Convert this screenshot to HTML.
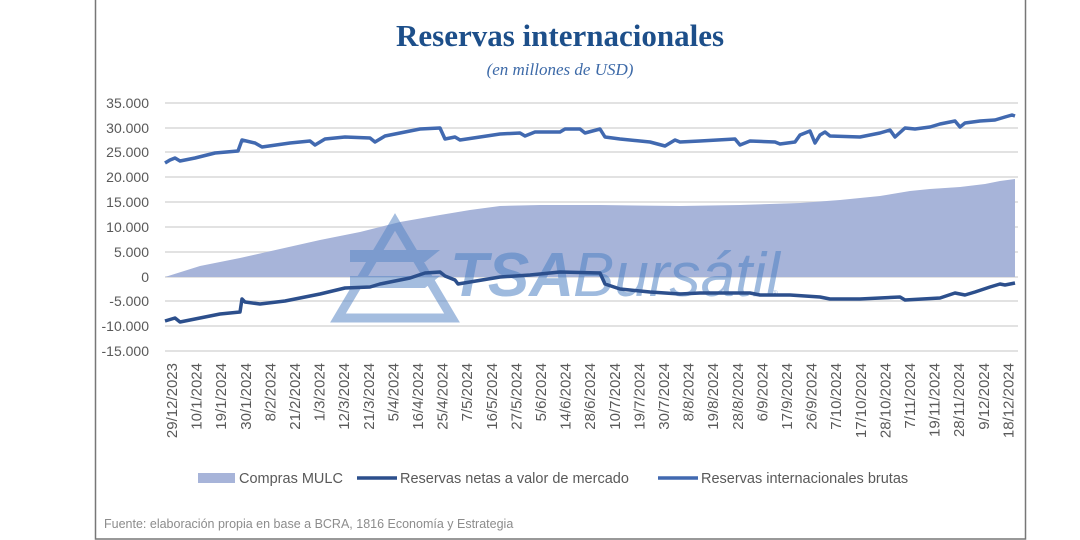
<!DOCTYPE html>
<html><head><meta charset="utf-8"><style>
body{margin:0;background:#fff;width:1080px;height:540px;overflow:hidden}
svg{display:block}
</style></head><body>
<svg width="1080" height="540" viewBox="0 0 1080 540" xmlns="http://www.w3.org/2000/svg" font-family="Liberation Sans, sans-serif">
<rect x="95.5" y="-1" width="930" height="540" fill="#fff" stroke="#777" stroke-width="1.5"/>
<text x="560" y="46" text-anchor="middle" font-family="Liberation Serif, serif" font-weight="bold" font-size="31" fill="#1d4f8a">Reservas internacionales</text>
<text x="560" y="75" text-anchor="middle" font-family="Liberation Serif, serif" font-style="italic" font-size="17" fill="#3d6aa8">(en millones de USD)</text>
<g stroke="#d9d9d9" stroke-width="1.5">
<line x1="165" x2="1018" y1="103" y2="103"/><line x1="165" x2="1018" y1="128" y2="128"/><line x1="165" x2="1018" y1="152" y2="152"/><line x1="165" x2="1018" y1="177" y2="177"/><line x1="165" x2="1018" y1="202" y2="202"/><line x1="165" x2="1018" y1="227" y2="227"/><line x1="165" x2="1018" y1="252" y2="252"/><line x1="165" x2="1018" y1="277" y2="277"/><line x1="165" x2="1018" y1="301" y2="301"/><line x1="165" x2="1018" y1="326" y2="326"/><line x1="165" x2="1018" y1="351" y2="351"/>
</g>
<g font-size="14" fill="#595959" text-anchor="end">
<text x="149" y="108">35.000</text><text x="149" y="133">30.000</text><text x="149" y="157">25.000</text><text x="149" y="182">20.000</text><text x="149" y="207">15.000</text><text x="149" y="232">10.000</text><text x="149" y="257">5.000</text><text x="149" y="282">0</text><text x="149" y="306">-5.000</text><text x="149" y="331">-10.000</text><text x="149" y="356">-15.000</text>
</g>
<polygon fill="#a7b4d9" points="165,277 200,266 240,258 280,249 320,240 360,232 400,222 440,215 470,210 500,206 540,205 600,205 680,206 740,205 800,203 840,200 880,196 910,191 930,189 960,187 985,184 1000,181 1015,179 1015,277"/>
<g opacity="0.55" fill="#5a88c6">
<polygon points="395,222 452,318 338,318" fill="none" stroke="#5a88c6" stroke-width="9"/>
<polygon points="350,250 440,250 425,262 350,262"/>
<polygon points="350,276 440,276 425,288 350,288"/>
<text x="450" y="296" font-size="62" font-weight="bold" font-style="italic" fill="#4f82c4">TSA</text>
<text x="573" y="296" font-size="62" font-style="italic" fill="#4f82c4">Bursátil</text>
<text x="772" y="296" font-size="8" fill="#4f82c4">®</text>
</g>
<polyline fill="none" stroke="#4169b0" stroke-width="3.5" stroke-linejoin="round" points="165,163 170,160 175,158 180,161 195,158 215,153 238,151 242,140 255,143 262,147 290,143 310,141 315,145 325,139 345,137 370,138 375,142 385,136 400,133 420,129 440,128 445,139 455,137 460,140 480,137 500,134 520,133 525,136 535,132 560,132 565,129 580,129 585,133 600,129 605,137 620,139 650,142 665,146 675,140 680,142 700,141 735,139 740,145 750,141 775,142 780,144 795,142 800,135 810,131 815,143 820,135 825,132 830,136 860,137 880,133 890,130 895,137 905,128 915,129 930,127 940,124 955,121 960,127 965,123 980,121 995,120 1005,117 1012,115 1015,116"/>
<polyline fill="none" stroke="#2c4f8c" stroke-width="3.5" stroke-linejoin="round" points="165,321 175,318 180,322 190,320 200,318 220,314 240,312 242,299 245,302 260,304 285,301 300,298 320,294 345,288 370,287 380,284 390,282 410,278 425,273 440,272 445,276 455,280 458,284 470,282 500,277 530,275 560,272 600,273 605,284 620,289 650,292 680,294 700,293 750,293 760,295 790,295 820,297 830,299 860,299 880,298 900,297 905,300 940,298 955,293 965,295 975,292 990,287 1000,284 1005,285 1015,283"/>
<g font-size="15" fill="#595959" text-anchor="end">
<text transform="translate(177,363) rotate(-90)">29/12/2023</text>
<text transform="translate(201.6,363) rotate(-90)">10/1/2024</text>
<text transform="translate(226.2,363) rotate(-90)">19/1/2024</text>
<text transform="translate(250.8,363) rotate(-90)">30/1/2024</text>
<text transform="translate(275.4,363) rotate(-90)">8/2/2024</text>
<text transform="translate(300,363) rotate(-90)">21/2/2024</text>
<text transform="translate(324.6,363) rotate(-90)">1/3/2024</text>
<text transform="translate(349.2,363) rotate(-90)">12/3/2024</text>
<text transform="translate(373.8,363) rotate(-90)">21/3/2024</text>
<text transform="translate(398.4,363) rotate(-90)">5/4/2024</text>
<text transform="translate(423,363) rotate(-90)">16/4/2024</text>
<text transform="translate(447.6,363) rotate(-90)">25/4/2024</text>
<text transform="translate(472.2,363) rotate(-90)">7/5/2024</text>
<text transform="translate(496.8,363) rotate(-90)">16/5/2024</text>
<text transform="translate(521.4,363) rotate(-90)">27/5/2024</text>
<text transform="translate(546,363) rotate(-90)">5/6/2024</text>
<text transform="translate(570.6,363) rotate(-90)">14/6/2024</text>
<text transform="translate(595.2,363) rotate(-90)">28/6/2024</text>
<text transform="translate(619.8,363) rotate(-90)">10/7/2024</text>
<text transform="translate(644.4,363) rotate(-90)">19/7/2024</text>
<text transform="translate(669,363) rotate(-90)">30/7/2024</text>
<text transform="translate(693.6,363) rotate(-90)">8/8/2024</text>
<text transform="translate(718.2,363) rotate(-90)">19/8/2024</text>
<text transform="translate(742.8,363) rotate(-90)">28/8/2024</text>
<text transform="translate(767.4,363) rotate(-90)">6/9/2024</text>
<text transform="translate(792,363) rotate(-90)">17/9/2024</text>
<text transform="translate(816.6,363) rotate(-90)">26/9/2024</text>
<text transform="translate(841.2,363) rotate(-90)">7/10/2024</text>
<text transform="translate(865.8,363) rotate(-90)">17/10/2024</text>
<text transform="translate(890.4,363) rotate(-90)">28/10/2024</text>
<text transform="translate(915,363) rotate(-90)">7/11/2024</text>
<text transform="translate(939.6,363) rotate(-90)">19/11/2024</text>
<text transform="translate(964.2,363) rotate(-90)">28/11/2024</text>
<text transform="translate(988.8,363) rotate(-90)">9/12/2024</text>
<text transform="translate(1013.4,363) rotate(-90)">18/12/2024</text>
</g>
<rect x="198" y="473" width="37" height="10" fill="#a7b4d9"/>
<text x="239" y="483" font-size="14.5" fill="#595959">Compras MULC</text>
<line x1="357" y1="478" x2="397" y2="478" stroke="#2c4f8c" stroke-width="3.5"/>
<text x="400" y="483" font-size="14.5" fill="#595959">Reservas netas a valor de mercado</text>
<line x1="658" y1="478" x2="698" y2="478" stroke="#4169b0" stroke-width="3.5"/>
<text x="701" y="483" font-size="14.5" fill="#595959">Reservas internacionales brutas</text>
<text x="104" y="528" font-size="12.5" fill="#8c8c8c">Fuente: elaboración propia en base a BCRA, 1816 Economía y Estrategia</text>
</svg>
</body></html>
